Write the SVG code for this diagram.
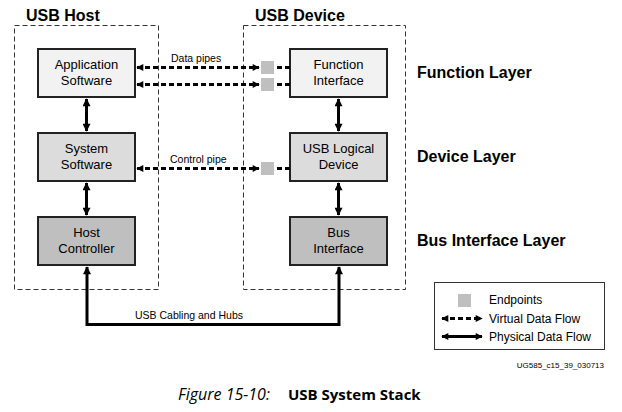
<svg xmlns="http://www.w3.org/2000/svg" width="622" height="412" viewBox="0 0 622 412">
<defs>
<marker id="ah" viewBox="0 0 10 10" refX="9" refY="5" markerWidth="9" markerHeight="8" markerUnits="userSpaceOnUse" orient="auto-start-reverse">
<path d="M0,0 L10,5 L0,10 z" fill="#000"/>
</marker>
<marker id="ahs" viewBox="0 0 10 10" refX="9" refY="5" markerWidth="8" markerHeight="7" markerUnits="userSpaceOnUse" orient="auto-start-reverse">
<path d="M0,0 L10,5 L0,10 z" fill="#000"/>
</marker>
<style>
.grp{fill:none;stroke:#333;stroke-width:1;stroke-dasharray:5,3}
.box{stroke:#222;stroke-width:2}
.l1{fill:#f2f2f2}.l2{fill:#dcdcdc}.l3{fill:#bfbfbf}
.nt{font-family:"Liberation Sans",Arial,sans-serif;font-size:13px;fill:#000;text-anchor:middle}
.ttl{font-family:"Liberation Sans",Arial,sans-serif;font-size:16px;font-weight:bold;fill:#000}
.sm{font-family:"Liberation Sans",Arial,sans-serif;font-size:10.5px;fill:#000}
.lg{font-family:"Liberation Sans",Arial,sans-serif;font-size:12px;fill:#000}
.phys{fill:none;stroke:#000;stroke-width:3}
.virt{fill:none;stroke:#000;stroke-width:3;stroke-dasharray:5,3}
.ep{fill:#bfbfbf}
</style>
</defs>
<rect width="622" height="412" fill="#fff"/>
<g id="host-group">
<rect class="grp" x="14.5" y="25.5" width="144" height="264"/>
<text class="ttl" x="26" y="21">USB Host</text>
</g>
<g id="device-group">
<rect class="grp" x="243.5" y="25.5" width="162" height="264"/>
<text class="ttl" x="255" y="21">USB Device</text>
</g>
<g id="app-software">
<rect class="box l1" x="38" y="49" width="97" height="48"/>
<text class="nt" x="86.5" y="69">Application</text>
<text class="nt" x="86.5" y="85">Software</text>
</g>
<g id="system-software">
<rect class="box l2" x="38" y="133" width="97" height="48"/>
<text class="nt" x="86.5" y="153">System</text>
<text class="nt" x="86.5" y="169">Software</text>
</g>
<g id="host-controller">
<rect class="box l3" x="38" y="217" width="97" height="48"/>
<text class="nt" x="86.5" y="237">Host</text>
<text class="nt" x="86.5" y="253">Controller</text>
</g>
<g id="function-interface">
<rect class="box l1" x="290" y="49" width="97" height="48"/>
<text class="nt" x="338.5" y="69">Function</text>
<text class="nt" x="338.5" y="85">Interface</text>
</g>
<g id="usb-logical-device">
<rect class="box l2" x="290" y="133" width="97" height="48"/>
<text class="nt" x="338.5" y="153">USB Logical</text>
<text class="nt" x="338.5" y="169">Device</text>
</g>
<g id="bus-interface">
<rect class="box l3" x="290" y="217" width="97" height="48"/>
<text class="nt" x="338.5" y="237">Bus</text>
<text class="nt" x="338.5" y="253">Interface</text>
</g>
<g id="endpoints">
<rect class="ep" x="261" y="61" width="13" height="13"/>
<rect class="ep" x="261" y="78" width="13" height="13"/>
<rect class="ep" x="261" y="162" width="13" height="13"/>
</g>
<g id="connectors">
<line class="phys" x1="86.5" y1="99" x2="86.5" y2="131" marker-start="url(#ah)" marker-end="url(#ah)"/>
<line class="phys" x1="86.5" y1="183" x2="86.5" y2="215" marker-start="url(#ah)" marker-end="url(#ah)"/>
<line class="phys" x1="338.5" y1="99" x2="338.5" y2="131" marker-start="url(#ah)" marker-end="url(#ah)"/>
<line class="phys" x1="338.5" y1="183" x2="338.5" y2="215" marker-start="url(#ah)" marker-end="url(#ah)"/>
<path class="phys" d="M87,267 V324.5 H339 V267" marker-start="url(#ah)" marker-end="url(#ah)"/>
<line class="virt" x1="137" y1="67.5" x2="259" y2="67.5" marker-start="url(#ahs)" marker-end="url(#ahs)"/>
<line class="virt" x1="137" y1="84.5" x2="259" y2="84.5" marker-start="url(#ahs)" marker-end="url(#ahs)"/>
<line class="virt" x1="137" y1="168.5" x2="259" y2="168.5" marker-start="url(#ahs)" marker-end="url(#ahs)"/>
<line class="virt" x1="277" y1="67.5" x2="290" y2="67.5"/>
<line class="virt" x1="277" y1="84.5" x2="290" y2="84.5"/>
<line class="virt" x1="277" y1="168.5" x2="290" y2="168.5"/>
<text class="sm" x="171" y="62">Data pipes</text>
<text class="sm" x="170" y="163">Control pipe</text>
<text class="sm" x="135" y="319">USB Cabling and Hubs</text>
</g>
<g id="layers">
<text class="ttl" x="417" y="78">Function Layer</text>
<text class="ttl" x="417" y="162">Device Layer</text>
<text class="ttl" x="417" y="246">Bus Interface Layer</text>
</g>
<g id="legend">
<rect x="434.5" y="282.5" width="170" height="67" fill="#fff" stroke="#333" stroke-width="1"/>
<rect class="ep" x="458" y="294" width="13" height="13"/>
<text class="lg" x="489" y="304">Endpoints</text>
<line class="virt" x1="442" y1="318.5" x2="482" y2="318.5" stroke-dasharray="5,4" marker-start="url(#ahs)" marker-end="url(#ahs)"/>
<text class="lg" x="489" y="323">Virtual Data Flow</text>
<line class="phys" x1="442" y1="336.5" x2="482" y2="336.5" marker-start="url(#ahs)" marker-end="url(#ahs)"/>
<text class="lg" x="489" y="341">Physical Data Flow</text>
</g>
<text font-family="'Liberation Sans',Arial,sans-serif" font-size="8px" x="604" y="368" text-anchor="end">UG585_c15_39_030713</text>
<g id="caption">
<text font-family="'Open Sans','Liberation Sans',sans-serif" font-size="16px" x="178" y="400" font-style="italic">Figure 15-10:</text>
<text font-family="'Open Sans','Liberation Sans',sans-serif" font-size="15px" x="288" y="400" font-weight="bold">USB System Stack</text>
</g>
</svg>
